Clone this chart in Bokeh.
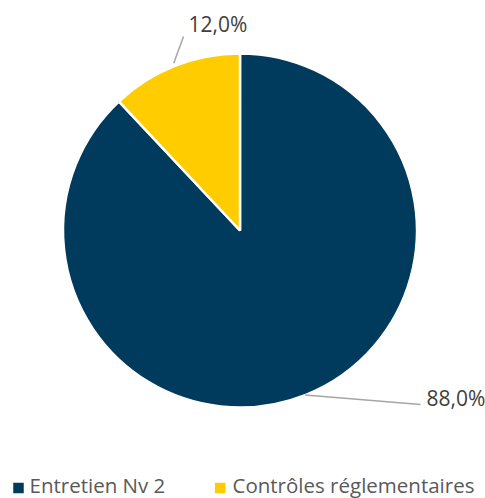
import math
from bokeh.plotting import figure
from bokeh.models import Range1d, ColumnDataSource
from bokeh.core.properties import value
from bokeh.embed import file_html
from bokeh.resources import INLINE

categories = ["Entretien Nv 2", "Contrôles réglementaires"]
shares = [88.0, 12.0]
colors = ["#003A5C", "#FFCC00"]
labels = ["88,0%", "12,0%"]

W, H = 485, 498
CX, CY = 239.5, 230  # pie centre in picture pixels
R = 177

p = figure(width=W, height=H, output_backend="svg", toolbar_location=None,
           x_range=Range1d(-CX, W - CX), y_range=Range1d(CY - H, CY),
           min_border=0, outline_line_color=None)
p.axis.visible = False
p.grid.visible = False
p.background_fill_color = "white"
p.border_fill_color = "white"

total = sum(shares)
starts, ends, mids = [], [], []
a = math.pi / 2
for s in shares:
    span = 2 * math.pi * s / total
    starts.append(a)
    ends.append(a - span)
    mids.append(a - span / 2)
    a -= span

src = ColumnDataSource(dict(start=starts, end=ends, color=colors))
p.wedge(x=0, y=0, radius=R, start_angle="start", end_angle="end", direction="clock",
        fill_color="color", line_color="white", line_width=2.5, source=src)

label_font = value("Open Sans")
elbows = [(180.5, -174), (-56.5, 194)]
text_pos = [(186.5, CY - 397), (-51.5, CY - 23)]
for i, m in enumerate(mids):
    r0 = R if i == 0 else R + 3
    x0, y0 = r0 * math.cos(m), r0 * math.sin(m)
    ex, ey = elbows[i]
    p.line([x0, ex], [y0, ey], line_color="#A6A6A6", line_width=1.5)
    tx, ty = text_pos[i]
    p.text(x=[tx], y=[ty], text=[labels[i]], text_font=label_font,
           text_font_size="21px", text_color="#404040",
           text_align="left", text_baseline="middle")

leg_sq_x = [18 - CX, 219.7 - CX]
leg_y = CY - 487.5
leg_tx = [29 - CX, 232 - CX]
leg_mid = CY - 484.5
p.scatter(x=leg_sq_x, y=[leg_y, leg_y], marker="square", size=10.5,
          fill_color=colors, line_color=None)
p.text(x=leg_tx, y=[leg_mid, leg_mid], text=categories, text_font=label_font,
       text_font_size="20.5px", text_color="#595959",
       text_align="left", text_baseline="middle")

open("out.html", "w").write(file_html(p, INLINE))
